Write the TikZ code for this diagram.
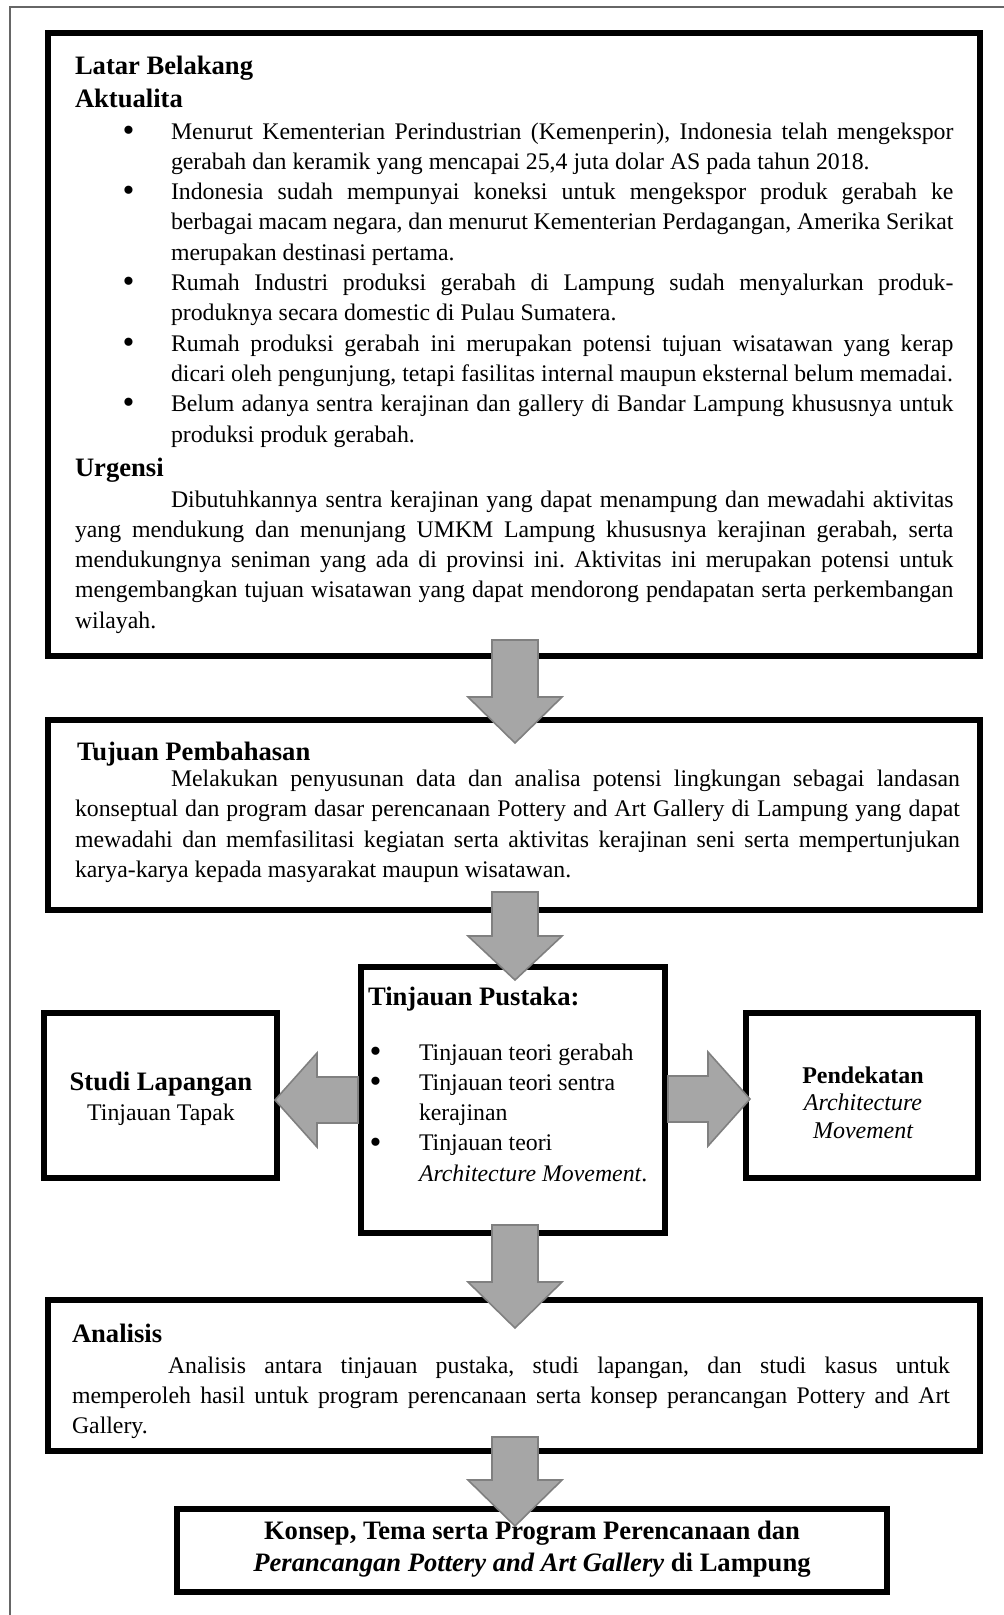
\documentclass[tikz,border=0pt]{standalone}
\usepackage{fontspec}
\setmainfont{Liberation Serif}
\usetikzlibrary{calc}
\frenchspacing

% type sizes (1pt = 1 unit of the picture)
\newcommand{\bodyfont}{\fontsize{23.8pt}{30.3pt}\selectfont}
\newcommand{\headfont}{\fontsize{26.6pt}{33pt}\selectfont\bfseries}
\newcommand{\sidefont}{\fontsize{24pt}{27.5pt}\selectfont}
% a justified line of given width, and a hanging bullet
\newcommand{\jline}[2]{\hbox to #1{#2}}
\newcommand{\bul}[1]{\llap{\hbox to #1{\hskip-1.5pt\smash{\raisebox{-2.2pt}{\fontsize{34pt}{34pt}\selectfont\textbullet}}\hfil}}}

% block arrow: start, tip, head length
\newcommand{\blockarrow}[3]{%
  \path ($(#2)!#3!(#1)$) coordinate (hb);
  \draw[barrow] ($(#1)!23pt!90:(#2)$) -- ($(hb)!23pt!90:(#2)$)
    -- ($(hb)!47pt!90:(#2)$) -- (#2) -- ($(hb)!47pt!-90:(#2)$)
    -- ($(hb)!23pt!-90:(#2)$) -- ($(#1)!23pt!-90:(#2)$) -- cycle;
}

\tikzset{
  frame/.style={draw=black!60, line width=1.7pt},
  box/.style={draw=black, line width=5.5pt, inner sep=0pt, outer sep=0pt, fill=white},
  barrow/.style={fill=black!35, draw=black!50, line width=1.6pt, line join=miter},
  txt/.style={anchor=base west, inner sep=0pt, outer sep=0pt},
  ctxt/.style={anchor=base, inner sep=0pt, outer sep=0pt},
}

\begin{document}
\begin{tikzpicture}[x=1pt, y=-1pt]
\useasboundingbox (0,0) rectangle (1004,1615);
\fill[white] (0,0) rectangle (1004,1615);

% page frame
\draw[frame] (10,1615) -- (10,7) -- (1004,7);

% boxes
\node[box, minimum width=932pt, minimum height=623pt] (box1) at (514,344.5) {};
\node[box, minimum width=932pt, minimum height=190pt] (box2) at (514,815) {};
\node[box, minimum width=304pt, minimum height=266pt] (box3) at (513,1100) {};
\node[box, minimum width=233pt, minimum height=165pt] (boxL) at (160.5,1095.5) {};
\node[box, minimum width=232pt, minimum height=165pt] (boxR) at (862,1095.5) {};
\node[box, minimum width=932pt, minimum height=151pt] (box4) at (514,1375.5) {};
\node[box, minimum width=710pt, minimum height=83pt] (box5) at (532,1550.5) {};

% arrow ends
\coordinate (a1s) at ($(box1.south)+(1,-16)$);
\coordinate (a1t) at ($(box2.north)+(1,23)$);
\coordinate (a2s) at ($(box2.south)+(1,-18)$);
\coordinate (a2t) at ($(box3.north)+(2,13)$);
\coordinate (a3s) at ($(box3.south)+(2,-8)$);
\coordinate (a3t) at ($(box4.north)+(1,28)$);
\coordinate (a4s) at ($(box4.south)+(1,-14)$);
\coordinate (a4t) at ($(box5.north)+(-17,17)$);
\coordinate (aLs) at ($(box3.west)+(-3,0)$);
\coordinate (aLt) at ($(boxL.east)+(-2,4.5)$);
\coordinate (aRs) at ($(box3.east)+(3,-1)$);
\coordinate (aRt) at ($(boxR.west)+(4,3.5)$);

\blockarrow{a1s}{a1t}{46pt}
\blockarrow{a2s}{a2t}{44pt}
\blockarrow{a3s}{a3t}{46pt}
\blockarrow{a4s}{a4t}{46pt}
\blockarrow{aLs}{aLt}{42pt}
\blockarrow{aRs}{aRt}{42pt}

% Latar Belakang
\node[txt] (t1head) at (75,74) {\vtop{\headfont
  \hbox{Latar Belakang}
  \hbox{Aktualita}}};
\node[txt] (t1list) at (171,139) {\vtop{\bodyfont
  \jline{782.5pt}{\bul{47pt}Menurut Kementerian Perindustrian (Kemenperin), Indonesia telah mengekspor}
  \hbox{gerabah dan keramik yang mencapai 25,4 juta dolar AS pada tahun 2018.}
  \jline{782.5pt}{\bul{47pt}Indonesia sudah mempunyai koneksi untuk mengekspor produk gerabah ke}
  \jline{782.5pt}{berbagai macam negara, dan menurut Kementerian Perdagangan, Amerika Serikat}
  \hbox{merupakan destinasi pertama.}
  \jline{782.5pt}{\bul{47pt}Rumah Industri produksi gerabah di Lampung sudah menyalurkan produk-}
  \hbox{produknya secara domestic di Pulau Sumatera.}
  \jline{782.5pt}{\bul{47pt}Rumah produksi gerabah ini merupakan potensi tujuan wisatawan yang kerap}
  \hbox{dicari oleh pengunjung, tetapi fasilitas internal maupun eksternal belum memadai.}
  \jline{782.5pt}{\bul{47pt}Belum adanya sentra kerajinan dan gallery di Bandar Lampung khususnya untuk}
  \hbox{produksi produk gerabah.}}};
\node[txt] (t1urg) at (75,476) {\headfont Urgensi};
\node[txt] (t1para) at (75,507) {\vtop{\bodyfont
  \jline{878.5pt}{\hskip96pt Dibutuhkannya sentra kerajinan yang dapat menampung dan mewadahi aktivitas}
  \jline{878.5pt}{yang mendukung dan menunjang UMKM Lampung khususnya kerajinan gerabah, serta}
  \jline{878.5pt}{mendukungnya seniman yang ada di provinsi ini. Aktivitas ini merupakan potensi untuk}
  \jline{878.5pt}{mengembangkan tujuan wisatawan yang dapat mendorong pendapatan serta perkembangan}
  \hbox{wilayah.}}};

% Tujuan Pembahasan
\node[txt] (t2head) at (77,760) {\headfont Tujuan Pembahasan};
\node[txt] (t2para) at (75,786.5) {\vtop{\bodyfont
  \jline{885pt}{\hskip96pt Melakukan penyusunan data dan analisa potensi lingkungan sebagai landasan}
  \jline{885pt}{konseptual dan program dasar perencanaan Pottery and Art Gallery di Lampung yang dapat}
  \jline{885pt}{mewadahi dan memfasilitasi kegiatan serta aktivitas kerajinan seni serta mempertunjukan}
  \hbox{karya-karya kepada masyarakat maupun wisatawan.}}};

% Tinjauan Pustaka
\node[txt] (t3head) at (368,1005) {\headfont Tinjauan Pustaka:};
\node[txt] (t3list) at (419,1060) {\vtop{\bodyfont
  \hbox{\bul{48pt}Tinjauan teori gerabah}
  \hbox{\bul{48pt}Tinjauan teori sentra}
  \hbox{kerajinan}
  \hbox{\bul{48pt}Tinjauan teori}
  \hbox{\textit{Architecture Movement}.}}};

% Studi Lapangan
\node[ctxt] (tLhead) at (161,1090) {\headfont Studi Lapangan};
\node[ctxt] (tLsub) at (161,1120) {\bodyfont Tinjauan Tapak};

% Pendekatan
\node[ctxt] (tRhead) at (863,1083) {\sidefont\bfseries Pendekatan};
\node[ctxt] (tRsub1) at (863,1110.5) {\sidefont\itshape Architecture};
\node[ctxt] (tRsub2) at (863,1138) {\sidefont\itshape Movement};

% Analisis
\node[txt] (t4head) at (72,1342) {\headfont Analisis};
\node[txt] (t4para) at (72,1373) {\vtop{\bodyfont
  \jline{878pt}{\hskip96pt Analisis antara tinjauan pustaka, studi lapangan, dan studi kasus untuk}
  \jline{878pt}{memperoleh hasil untuk program perencanaan serta konsep perancangan Pottery and Art}
  \hbox{Gallery.}}};

% Konsep
\node[ctxt] (t5a) at (532,1539) {\headfont Konsep, Tema serta Program Perencanaan dan};
\node[ctxt] (t5b) at (532,1571) {\headfont \textit{Perancangan Pottery and Art Gallery} di Lampung};

\end{tikzpicture}
\end{document}
